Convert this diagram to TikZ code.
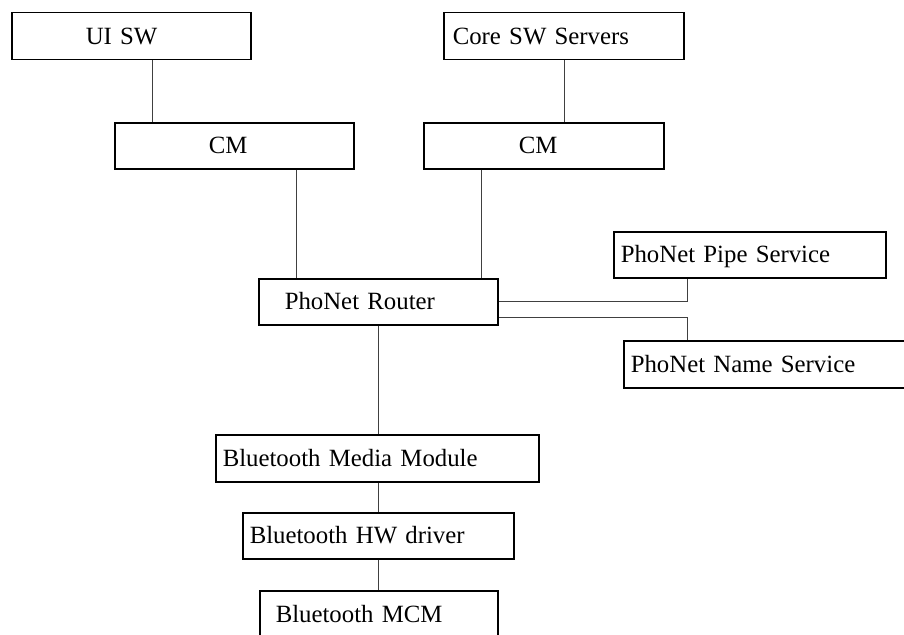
\documentclass[tikz,border=0pt]{standalone}
\usepackage{fontspec}
\setmainfont{Liberation Serif}
\begin{document}
\begin{tikzpicture}[x=1pt,y=-1pt,
  box/.style={draw=black, line width=1.5pt, anchor=north west, inner xsep=0pt, inner ysep=0pt,
    align=left, font=\fontsize{24.8}{28}\selectfont, text height=16.4pt, text depth=0pt},
  conn/.style={draw=black!75, line width=0.9pt}]
\useasboundingbox (0,0) rectangle (904,634);
\clip (0,0) rectangle (904,634);
\node[box, minimum width=239pt, minimum height=47pt, text width=239pt] (ui) at (11,12) {\hspace*{74pt}UI SW};
\node[box, minimum width=240pt, minimum height=47pt, text width=240pt] (core) at (443,12) {\hspace*{9pt}Core SW Servers};
\node[box, minimum width=239pt, minimum height=46pt, text width=239pt] (cmL) at (114,122) {\hspace*{94pt}CM};
\node[box, minimum width=240pt, minimum height=46pt, text width=240pt] (cmR) at (423,122) {\hspace*{95pt}CM};
\node[box, minimum width=272pt, minimum height=46pt, text width=272pt] (pipe) at (613,231) {\hspace*{7pt}PhoNet Pipe Service};
\node[box, minimum width=239pt, minimum height=46pt, text width=239pt] (router) at (258,278) {\hspace*{26pt}PhoNet Router};
\node[box, minimum width=300pt, minimum height=47pt, text width=300pt] (name) at (623,340) {\hspace*{7pt}PhoNet Name Service};
\node[box, minimum width=323pt, minimum height=47pt, text width=323pt] (bmm) at (215,434) {\hspace*{7pt}Bluetooth Media Module};
\node[box, minimum width=271pt, minimum height=46pt, text width=271pt] (hw) at (242,512) {\hspace*{7pt}Bluetooth HW driver};
\node[box, minimum width=238pt, minimum height=47pt, text width=238pt] (mcm) at (259,590) {\hspace*{16pt}Bluetooth MCM};
\coordinate (xa) at (152,0);
\coordinate (xb) at (564,0);
\coordinate (xc) at (296,0);
\coordinate (xd) at (481,0);
\coordinate (xe) at (378,0);
\coordinate (j1) at (687,301);
\coordinate (j2) at (687,317);
\draw[conn] (ui.south -| xa) -- (cmL.north -| xa);
\draw[conn] (core.south -| xb) -- (cmR.north -| xb);
\draw[conn] (cmL.south -| xc) -- (router.north -| xc);
\draw[conn] (cmR.south -| xd) -- (router.north -| xd);
\draw[conn] (router.east |- j1) -- (j1) -- (pipe.south -| j1);
\draw[conn] (router.east |- j2) -- (j2) -- (name.north -| j2);
\draw[conn] (router.south -| xe) -- (bmm.north -| xe);
\draw[conn] (bmm.south -| xe) -- (hw.north -| xe);
\draw[conn] (hw.south -| xe) -- (mcm.north -| xe);
\end{tikzpicture}
\end{document}
